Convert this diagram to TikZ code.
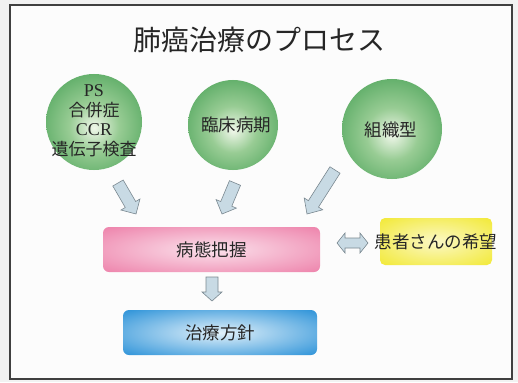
\documentclass[tikz,border=0pt]{standalone}
\usepackage{fontspec}
\newfontfamily\jp{Noto Sans CJK JP}
\newfontfamily\enserif{Liberation Serif}
\usetikzlibrary{calc}
\definecolor{txt}{HTML}{262626}
\definecolor{gcenter}{HTML}{F0F7EA}
\definecolor{gmid}{HTML}{98CC94}
\definecolor{gedge}{HTML}{339646}
\definecolor{pcenter}{HTML}{FBE2EC}
\definecolor{pedge}{HTML}{EE87AE}
\definecolor{bcenter}{HTML}{E2F1FA}
\definecolor{bedge}{HTML}{3597DA}
\definecolor{ycenter}{HTML}{FBF8C6}
\definecolor{yedge}{HTML}{F2E934}
\definecolor{arrfill}{HTML}{C8DAE4}
\definecolor{arrdraw}{HTML}{7A8890}
\pgfdeclareradialshading{greenball}{\pgfpoint{0bp}{-3bp}}{color(0bp)=(gcenter); color(13bp)=(gmid); color(40bp)=(gedge); color(60bp)=(gedge)}
\pgfdeclareradialshading{pinkbox}{\pgfpoint{0bp}{0bp}}{color(0bp)=(pcenter); color(34bp)=(pedge); color(75bp)=(pedge)}
\pgfdeclareradialshading{bluebox}{\pgfpoint{0bp}{0bp}}{color(0bp)=(bcenter); color(34bp)=(bedge); color(75bp)=(bedge)}
\pgfdeclareradialshading{yellowbox}{\pgfpoint{0bp}{0bp}}{color(0bp)=(ycenter); color(36bp)=(yedge); color(75bp)=(yedge)}
\tikzset{
  ball/.style={circle, shading=greenball, minimum size=#1, inner sep=0pt},
  boxp/.style={rounded corners=6pt, minimum width=#1, minimum height=45pt, inner sep=0pt},
  lbl/.style={text=txt, font=\jp\fontsize{17.5pt}{20pt}\selectfont, align=center, inner sep=0pt},
  arrowstyle/.style={fill=arrfill, draw=arrdraw, line width=0.6pt, line join=miter}
}
% single block arrow: name, tail, tip, shaft half width, head half width, head length
\newcommand{\blockarr}[6]{%
  \coordinate (#1-t) at #2;
  \coordinate (#1-p) at #3;
  \coordinate (#1-h) at ($(#1-p)!#6!(#1-t)$);
  \draw[arrowstyle] ($(#1-t)!#4!90:(#1-p)$) -- ($(#1-h)!#4!-90:(#1-t)$) -- ($(#1-h)!#5!-90:(#1-t)$) -- (#1-p)
     -- ($(#1-h)!#5!90:(#1-t)$) -- ($(#1-h)!#4!90:(#1-t)$) -- ($(#1-t)!#4!-90:(#1-p)$) -- cycle;
}
\begin{document}
\begin{tikzpicture}[x=1pt,y=-1pt]
\useasboundingbox (0,0) rectangle (518,382);
\fill[gray!10] (0,0) rectangle (518,382);
\draw[fill=white!98!gray, draw=black!75, line width=1.6pt] (10,5) rectangle (512,379);

\node[text=txt, font=\jp\fontsize{28pt}{32pt}\selectfont, inner sep=0pt] (title) at (259,40) {肺癌治療のプロセス};

\node[ball=96pt] (c1) at (94,122) {};
\node[lbl, font=\jp\fontsize{17pt}{19.5pt}\selectfont] (c1t) at (94,121) {{\enserif\fontsize{18pt}{19.5pt}\selectfont PS}\\合併症\\{\enserif\fontsize{18pt}{19.5pt}\selectfont CCR}\\遺伝子検査};
\node[ball=90pt] (c2) at (233,125) {};
\node[lbl] (c2t) at (236,125) {臨床病期};
\node[ball=100pt] (c3) at (392,129) {};
\node[lbl] (c3t) at (391,130) {組織型};

\node[boxp=217pt, shading=pinkbox] (pink) at (211.5,249.5) {};
\node[lbl] (pinkt) at (pink.center) {病態把握};
\node[boxp=194pt, shading=bluebox] (blue) at (220,332.5) {};
\node[lbl] (bluet) at (blue.center) {治療方針};
\node[rounded corners=5pt, minimum width=112pt, minimum height=47pt, inner sep=0pt, shading=yellowbox] (wish) at (436,241.5) {};
\node[lbl] (wisht) at (436,242) {患者さんの希望};

\blockarr{a1}{(118,183)}{(136,214)}{6pt}{11pt}{11pt}
\blockarr{a2}{(235,183)}{(222,214)}{6pt}{11pt}{11pt}
\blockarr{a3}{(335,170)}{(307,214)}{6pt}{11pt}{12pt}
\blockarr{a4}{(212,277)}{(212,301)}{6pt}{10pt}{9pt}
% double arrow between pink box and wish
\coordinate (d1) at (337,243);
\coordinate (d2) at (368,243);
\draw[arrowstyle] (d1) -- ($(d1)+(8,-10)$) -- ($(d1)+(8,-5)$) -- ($(d2)+(-8,-5)$) -- ($(d2)+(-8,-10)$) -- (d2)
  -- ($(d2)+(-8,10)$) -- ($(d2)+(-8,5)$) -- ($(d1)+(8,5)$) -- ($(d1)+(8,10)$) -- cycle;
\end{tikzpicture}
\end{document}
